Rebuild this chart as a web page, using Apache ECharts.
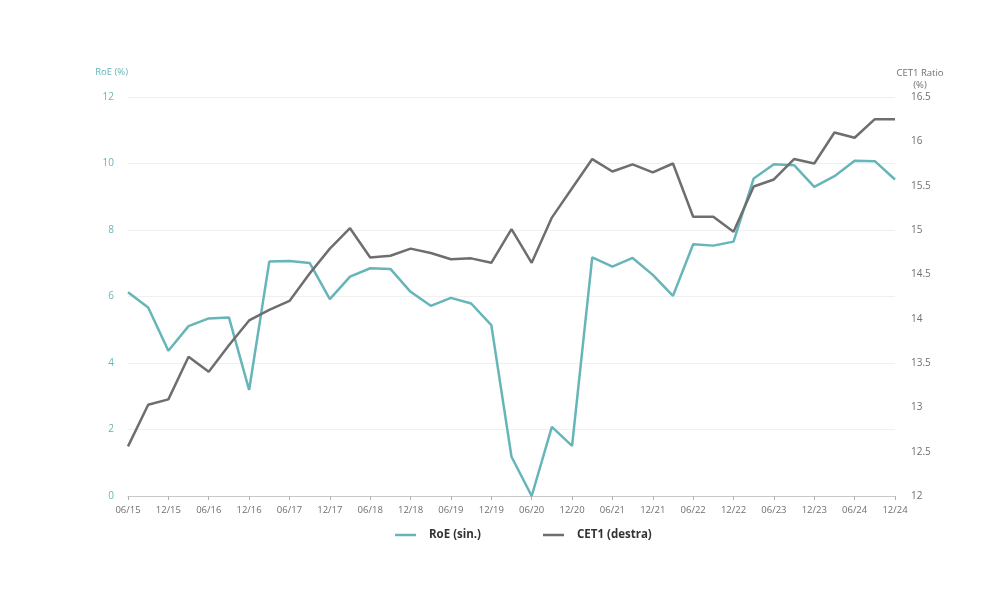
<!DOCTYPE html>
<html>
<head>
<meta charset="utf-8">
<script src="https://cdn.jsdelivr.net/npm/echarts@6/dist/echarts.min.js"></script>
<style>html,body{margin:0;padding:0;background:#fff;}#c{width:1000px;height:600px;}</style>
</head>
<body>
<div id="c"></div>
<script>
var categories = ["06/15","09/15","12/15","03/16","06/16","09/16","12/16","03/17","06/17","09/17","12/17","03/18","06/18","09/18","12/18","03/19","06/19","09/19","12/19","03/20","06/20","09/20","12/20","03/21","06/21","09/21","12/21","03/22","06/22","09/22","12/22","03/23","06/23","09/23","12/23","03/24","06/24","09/24","12/24"];
var roe = [6.13,5.67,4.37,5.11,5.34,5.37,3.19,7.05,7.07,7.01,5.92,6.6,6.85,6.83,6.14,5.72,5.96,5.79,5.14,1.18,0.0,2.08,1.51,7.18,6.90,7.16,6.65,6.02,7.57,7.53,7.65,9.55,9.98,9.95,9.30,9.62,10.08,10.07,9.52];
var cet1 = [12.56,13.03,13.09,13.57,13.40,13.70,13.98,14.10,14.20,14.51,14.79,15.02,14.69,14.71,14.79,14.74,14.67,14.68,14.63,15.01,14.63,15.14,15.47,15.80,15.66,15.74,15.65,15.75,15.15,15.15,14.98,15.49,15.57,15.80,15.75,16.10,16.04,16.25,16.25];
var seriesNames = ["RoE (sin.)","CET1 (destra)"];
var leftAxisName = "RoE (%)";
var rightAxisName = "CET1 Ratio\n(%)";

var teal = "#66b5b9";
var gray = "#6e6e6e";
var font = "Open Sans";
var chart = echarts.init(document.getElementById('c'), null, {renderer:'canvas'});
chart.setOption({
  animation:false,
  backgroundColor:'#fff',
  textStyle:{fontFamily:font},
  grid:{left:128,right:105,top:97,bottom:104,containLabel:false},
  legend:{
    left:390, top:524, itemGap:62, itemWidth:21, itemHeight:2.5, icon:'rect',
    textStyle:{fontFamily:font,fontWeight:'bold',fontSize:11.5,color:'#333',padding:[0,0,0,8]},
    data:seriesNames
  },
  xAxis:{
    type:'category', data:categories, boundaryGap:false,
    axisLine:{show:true,lineStyle:{color:'#c8c8c8',width:1}},
    axisTick:{show:true,interval:1,length:4,lineStyle:{color:'#b0b0b0'}},
    axisLabel:{interval:1,color:'#6f6f6f',fontSize:9.5,margin:9,fontFamily:font},
    splitLine:{show:false}
  },
  yAxis:[{
    type:'value', min:0, max:12, interval:2, position:'left',
    name:leftAxisName, nameLocation:'end', nameGap:20,
    nameTextStyle:{color:teal,fontSize:9.5,align:'right',fontFamily:font},
    axisLine:{show:false}, axisTick:{show:false},
    axisLabel:{color:teal,fontSize:10,margin:14,fontFamily:font},
    splitLine:{show:true,lineStyle:{color:'#f0f0f0',width:1}}
  },{
    type:'value', min:12, max:16.5, interval:0.5, position:'right',
    name:rightAxisName, nameLocation:'end', nameGap:6,
    nameTextStyle:{color:'#6f6f6f',fontSize:9.5,align:'center',lineHeight:12,padding:[0,0,0,50],fontFamily:font},
    axisLine:{show:false}, axisTick:{show:false},
    axisLabel:{color:'#6f6f6f',fontSize:10,margin:16,fontFamily:font},
    splitLine:{show:false}
  }],
  series:[{
    name:seriesNames[0], type:'line', yAxisIndex:0, data:roe,
    showSymbol:false, symbol:'none',
    lineStyle:{color:teal,width:2.5}, itemStyle:{color:teal}
  },{
    name:seriesNames[1], type:'line', yAxisIndex:1, data:cet1,
    showSymbol:false, symbol:'none',
    lineStyle:{color:gray,width:2.5}, itemStyle:{color:gray}
  }]
});
</script>
</body>
</html>
